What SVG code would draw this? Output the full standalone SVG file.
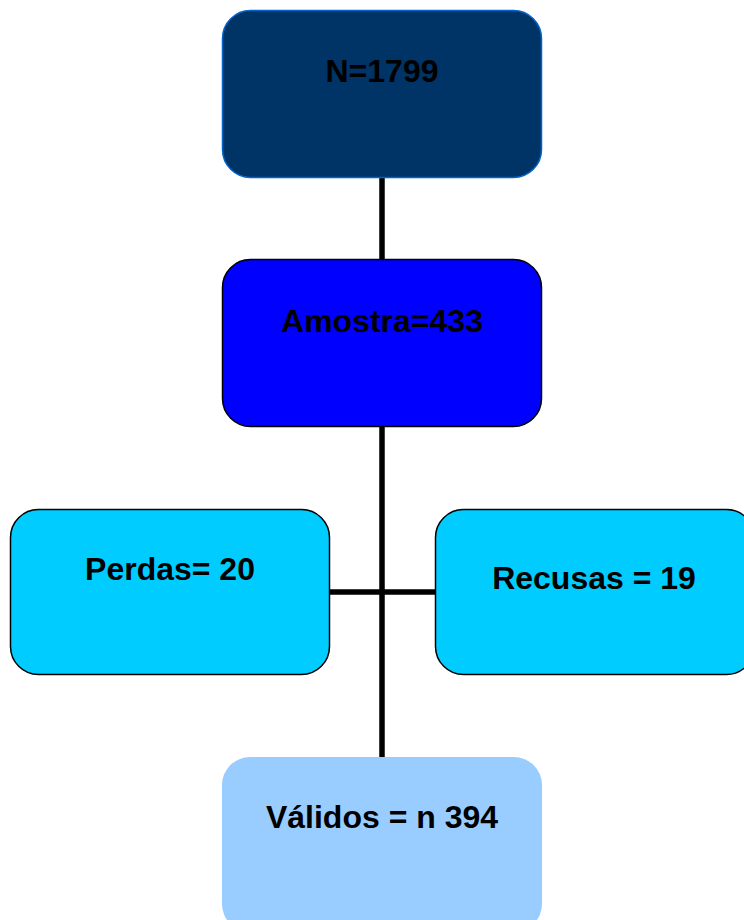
<svg xmlns="http://www.w3.org/2000/svg" width="744" height="920" viewBox="0 0 744 920">
<style>
.lbl{font-family:"Liberation Sans",Arial,sans-serif;font-weight:bold;font-size:32px;fill:#000;text-anchor:middle}
.conn{stroke:#000;stroke-width:5.5;fill:none}
.box{stroke:#000;stroke-width:1.5}
</style>
<rect width="744" height="920" fill="#fff"/>
<g id="connectors">
<line class="conn" x1="382" y1="177" x2="382" y2="260"/>
<line class="conn" x1="382" y1="426" x2="382" y2="758"/>
<line class="conn" x1="329" y1="592" x2="436" y2="592"/>
</g>
<g id="n1799">
<rect x="222.5" y="10.5" width="319" height="167" rx="28" fill="#003366" stroke="#0066CC" stroke-width="1.5"/>
<text class="lbl" x="382" y="82">N=1799</text>
</g>
<g id="amostra">
<rect class="box" x="222.5" y="259.5" width="319" height="167" rx="28" fill="#0000FF"/>
<text class="lbl" x="382" y="332">Amostra=433</text>
</g>
<g id="perdas">
<rect class="box" x="10.5" y="509.5" width="319" height="165" rx="28" fill="#00CCFF"/>
<text class="lbl" x="170" y="580">Perdas= 20</text>
</g>
<g id="recusas">
<rect class="box" x="435.5" y="509.5" width="319" height="165" rx="28" fill="#00CCFF"/>
<text class="lbl" x="594" y="589">Recusas = 19</text>
</g>
<g id="validos">
<rect x="222" y="757" width="320" height="175" rx="28" fill="#99CCFF"/>
<text class="lbl" x="382" y="828">Válidos = n 394</text>
</g>
</svg>
